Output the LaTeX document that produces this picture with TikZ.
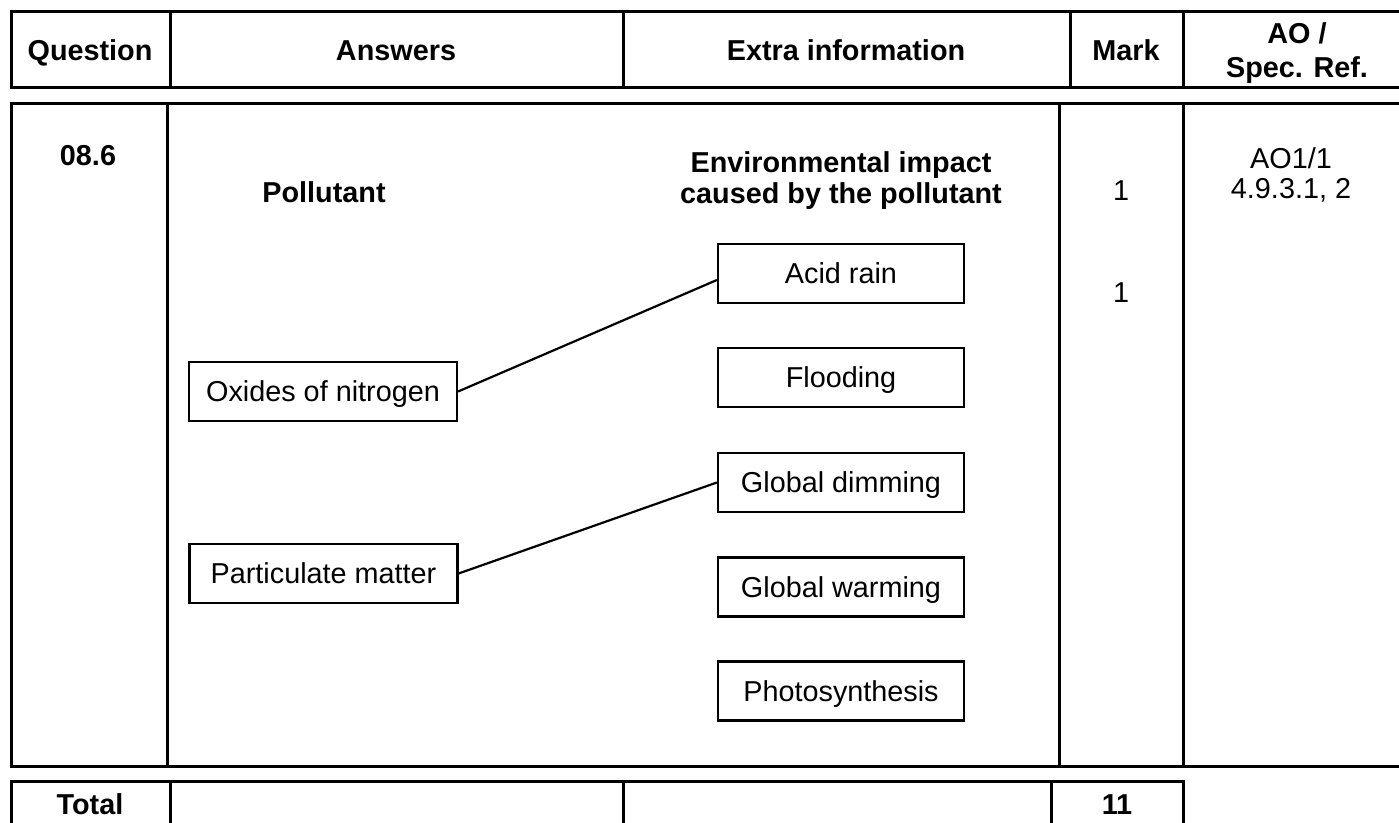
\documentclass[tikz,border=0pt]{standalone}
\usepackage{fontspec}
\setmainfont{Liberation Sans}
\begin{document}
\begin{tikzpicture}[x=0.5pt,y=-0.5pt,
  tx/.style={font=\fontsize{14.4pt}{17pt}\selectfont, text height=10.3pt, text depth=0pt, inner sep=0pt},
  hd/.style={tx, font=\fontsize{14.4pt}{17pt}\selectfont\bfseries},
  rule/.style={line width=1.5pt},
  box/.style={tx, draw, line width=1.1pt, minimum height=29.5pt},
  lbox/.style={box, minimum width=134pt},
  rbox/.style={box, minimum width=123pt},
  conn/.style={line width=1.1pt}]
\useasboundingbox (0,0) rectangle (1399,823);
\clip (0,0) rectangle (1399,823);
% header row
\draw[rule] (11,12) rectangle (1403,88);
\draw[rule] (170,12) -- (170,88);
\draw[rule] (623,12) -- (623,88);
\draw[rule] (1070,12) -- (1070,88);
\draw[rule] (1183,12) -- (1183,88);
\node[hd] (qh) at (90,50) {Question};
\node[hd] (ah) at (396,50) {Answers};
\node[hd] (eh) at (846,50) {Extra information};
\node[hd] (mh) at (1126,50) {Mark};
\node[hd] (aoh1) at (1297,33) {AO /};
\node[hd] (aoh2) at (1297,67) {Spec. Ref.};
% main row
\draw[rule] (11,104) rectangle (1403,766);
\draw[rule] (167,104) -- (167,766);
\draw[rule] (1059,104) -- (1059,766);
\draw[rule] (1183,104) -- (1183,766);
\node[hd] (qn) at (88,155) {08.6};
\node[tx] (m1) at (1121,190) {1};
\node[tx] (m2) at (1121,292) {1};
\node[tx] (ao1) at (1291,158) {AO1/1};
\node[tx] (ao2) at (1291,188) {4.9.3.1, 2};
% matching diagram
\node[hd] (pol) at (324,192) {Pollutant};
\node[hd] (env1) at (841,162) {Environmental impact};
\node[hd] (env2) at (841,193) {caused by the pollutant};
\node[lbox] (ox) at (323,391.5) {Oxides of nitrogen};
\node[lbox] (pm) at (323.5,573.5) {Particulate matter};
\node[rbox] (ar) at (841,273.5) {Acid rain};
\node[rbox] (fl) at (841,377.5) {Flooding};
\node[rbox] (gd) at (841,482.5) {Global dimming};
\node[rbox] (gw) at (841,587) {Global warming};
\node[rbox] (ph) at (841,691) {Photosynthesis};
\draw[conn] (ox.east) -- (ar.183);
\draw[conn] (pm.east) -- (gd.west);
% total row
\draw[rule] (11,830) -- (11,781) -- (1183,781) -- (1183,830);
\draw[rule] (170,781) -- (170,830);
\draw[rule] (623,781) -- (623,830);
\draw[rule] (1051,781) -- (1051,830);
\node[hd] (tot) at (90,804) {Total};
\node[hd] (tm) at (1117,804) {11};
\end{tikzpicture}
\end{document}
